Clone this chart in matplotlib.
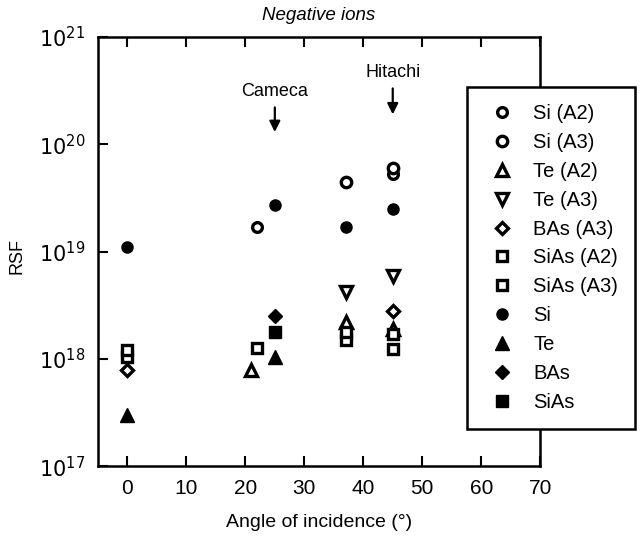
import matplotlib
matplotlib.use("Agg")
import matplotlib.pyplot as plt
from matplotlib.ticker import FixedLocator, NullLocator

plt.rcParams['font.family'] = ['Liberation Sans', 'DejaVu Sans']

# angle of incidence (deg) and RSF values
si_a2_x = [22, 45]
si_a2_y = [1.7e19, 5.3e19]
si_a3_x = [37, 45]
si_a3_y = [4.5e19, 6.0e19]
te_a2_x = [21, 37, 45]
te_a2_y = [7.8e17, 2.2e18, 1.9e18]
te_a3_x = [37, 45]
te_a3_y = [4.2e18, 5.9e18]
bas_a3_x = [0, 45]
bas_a3_y = [7.8e17, 2.8e18]
sias_a2_x = [0, 22, 37, 45]
sias_a2_y = [1.05e18, 1.26e18, 1.5e18, 1.23e18]
sias_a3_x = [0, 37, 45]
sias_a3_y = [1.2e18, 1.8e18, 1.7e18]
si_x = [0, 25, 37, 45]
si_y = [1.1e19, 2.7e19, 1.7e19, 2.5e19]
te_x = [0, 25]
te_y = [3.0e17, 1.05e18]
bas_x = [25]
bas_y = [2.5e18]
sias_x = [25]
sias_y = [1.78e18]

xticks = [0, 10, 20, 30, 40, 50, 60, 70]
yticks = [1e17, 1e18, 1e19, 1e20, 1e21]
ylabels = ['$10^{17}$', '$10^{18}$', '$10^{19}$', '$10^{20}$', '$10^{21}$']

fig = plt.figure(figsize=(6.4, 5.44), dpi=100)
ax = fig.add_axes([0.153, 0.143, 0.691, 0.789])

open_kw = dict(linestyle='none', color='black', markerfacecolor='white',
               markeredgewidth=2.4, clip_on=False)
fill_kw = dict(linestyle='none', color='black', clip_on=False)

ax.plot(si_a2_x, si_a2_y, marker='o', markersize=7, label='Si (A2)', **open_kw)
ax.plot(si_a3_x, si_a3_y, marker='o', markersize=7.5, label='Si (A3)', **open_kw)
ax.plot(te_a2_x, te_a2_y, marker='^', markersize=9, label='Te (A2)', **open_kw)
ax.plot(te_a3_x, te_a3_y, marker='v', markersize=9, label='Te (A3)', **open_kw)
ax.plot(bas_a3_x, bas_a3_y, marker='D', markersize=6.5, label='BAs (A3)', **open_kw)
ax.plot(sias_a2_x, sias_a2_y, marker='s', markersize=7.5, label='SiAs (A2)', **open_kw)
ax.plot(sias_a3_x, sias_a3_y, marker='s', markersize=7.5, label='SiAs (A3)', **open_kw)
ax.plot(si_x, si_y, marker='o', markersize=8, label='Si', **fill_kw)
ax.plot(te_x, te_y, marker='^', markersize=10, label='Te', **fill_kw)
ax.plot(bas_x, bas_y, marker='D', markersize=7.5, label='BAs', **fill_kw)
ax.plot(sias_x, sias_y, marker='s', markersize=8, label='SiAs', **fill_kw)

ax.set_yscale('log')
ax.set_xlim(-5, 70)
ax.set_ylim(1e17, 1e21)
ax.xaxis.set_major_locator(FixedLocator(xticks))
ax.yaxis.set_major_locator(FixedLocator(yticks))
ax.yaxis.set_minor_locator(NullLocator())
ax.set_yticklabels(ylabels)
ax.tick_params(axis='both', direction='in', length=7, width=1.5,
               labelsize=15, top=True, right=False, pad=9)
for sp in ax.spines.values():
    sp.set_linewidth(1.8)

ax.set_xlabel('Angle of incidence (\u00b0)', fontsize=14, labelpad=12)
ax.set_ylabel('RSF', fontsize=13)
ax.yaxis.set_label_coords(-0.163, 0.49)
ax.set_title('Negative ions', fontsize=13.5, style='italic', pad=12)

ax.annotate('Cameca', xy=(25, 1.3e20), xytext=(25, 2.56e20),
            ha='center', va='bottom', fontsize=13,
            arrowprops=dict(arrowstyle='-|>', color='black', lw=1.6,
                            mutation_scale=16, shrinkA=3, shrinkB=0))
ax.annotate('Hitachi', xy=(45, 1.9e20), xytext=(45, 3.85e20),
            ha='center', va='bottom', fontsize=13,
            arrowprops=dict(arrowstyle='-|>', color='black', lw=1.6,
                            mutation_scale=16, shrinkA=3, shrinkB=0))

leg = ax.legend(loc='upper left', bbox_to_anchor=(0.73, 0.840),
                bbox_transform=fig.transFigure, fontsize=14.5,
                frameon=True, fancybox=False, edgecolor='black',
                framealpha=1, handletextpad=0.63, labelspacing=0.49,
                borderpad=0.85, handlelength=1.8, borderaxespad=0)
leg.get_frame().set_linewidth(1.8)

fig.savefig('out.png', dpi=100)
